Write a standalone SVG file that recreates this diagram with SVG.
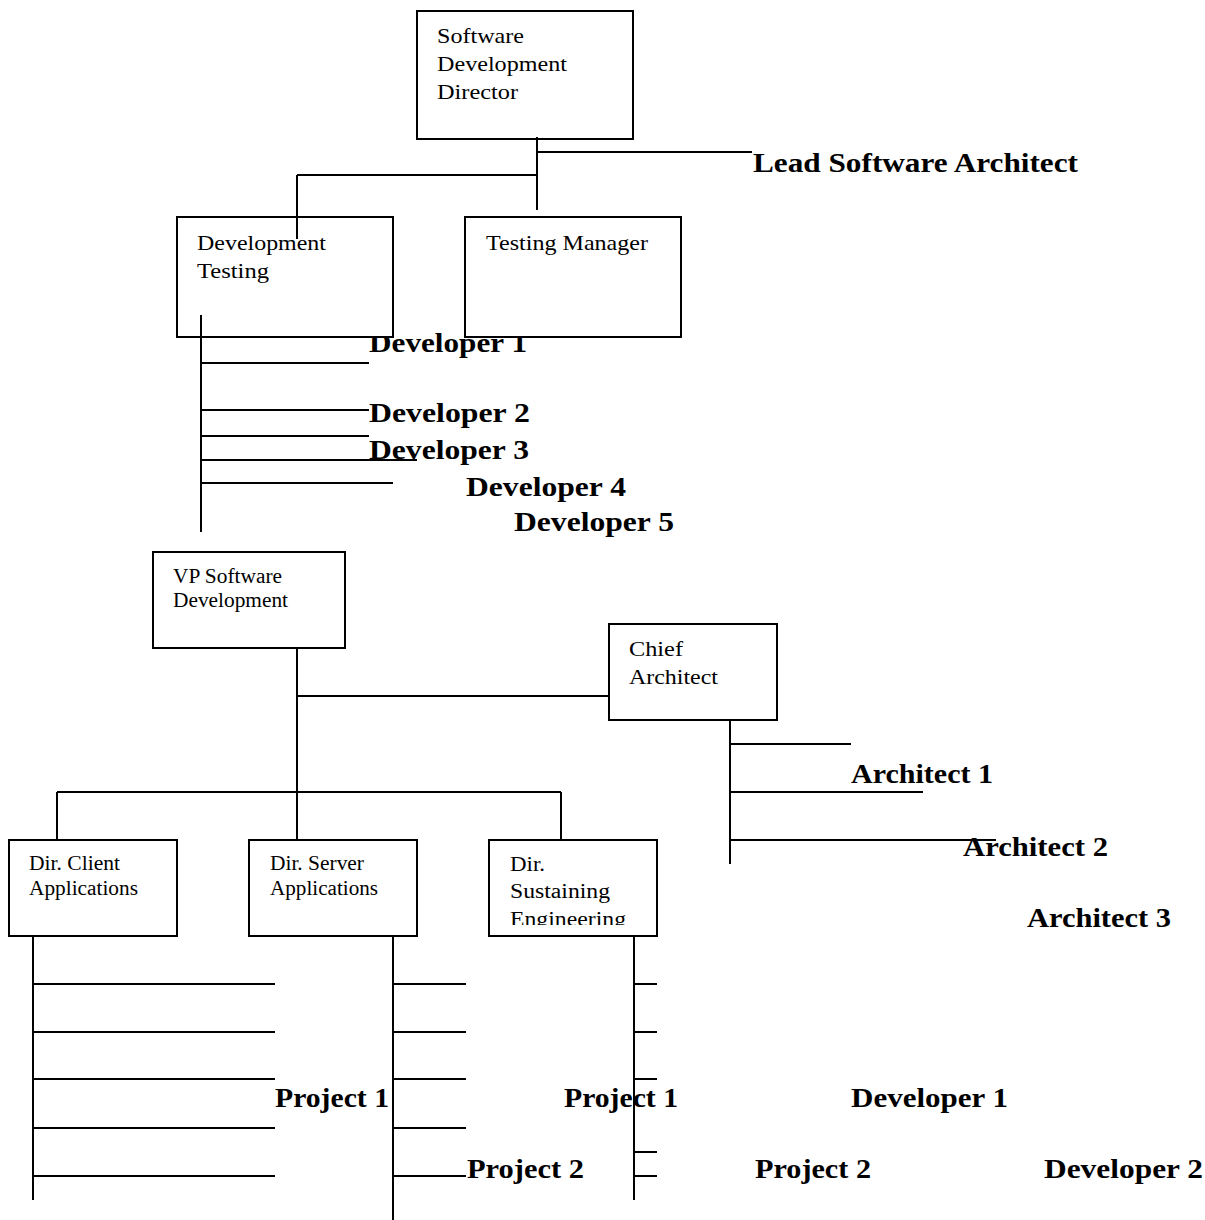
<svg xmlns="http://www.w3.org/2000/svg" width="1205" height="1220" viewBox="0 0 1205 1220">
<style>
.box{fill:#fff;stroke:#000;stroke-width:2}
.t{font-family:"Liberation Serif","Times New Roman",serif;fill:#000}
.big{font-size:22px}
.sm{font-size:20px}
.lbl{font-family:"Liberation Serif","Times New Roman",serif;font-size:27px;font-weight:bold;fill:#000}
.ln{stroke:#000;stroke-width:2;fill:none}
</style>
<defs>
<clipPath id="sustClip"><rect x="489" y="840" width="168" height="85"/></clipPath>
</defs>
<rect width="1205" height="1220" fill="#fff"/>
<g id="labels">
<text class="lbl" x="753" y="172" textLength="325" lengthAdjust="spacingAndGlyphs">Lead Software Architect</text>
<text class="lbl" x="369" y="352" textLength="158" lengthAdjust="spacingAndGlyphs">Developer 1</text>
<text class="lbl" x="369" y="422" textLength="161" lengthAdjust="spacingAndGlyphs">Developer 2</text>
<text class="lbl" x="369" y="459" textLength="160" lengthAdjust="spacingAndGlyphs">Developer 3</text>
<text class="lbl" x="466" y="496" textLength="160" lengthAdjust="spacingAndGlyphs">Developer 4</text>
<text class="lbl" x="514" y="531" textLength="160" lengthAdjust="spacingAndGlyphs">Developer 5</text>
<text class="lbl" x="851" y="783" textLength="142" lengthAdjust="spacingAndGlyphs">Architect 1</text>
<text class="lbl" x="963" y="856" textLength="145" lengthAdjust="spacingAndGlyphs">Architect 2</text>
<text class="lbl" x="1027" y="927" textLength="144" lengthAdjust="spacingAndGlyphs">Architect 3</text>
<text class="lbl" x="275" y="1107" textLength="114" lengthAdjust="spacingAndGlyphs">Project 1</text>
<text class="lbl" x="564" y="1107" textLength="114" lengthAdjust="spacingAndGlyphs">Project 1</text>
<text class="lbl" x="851" y="1107" textLength="157" lengthAdjust="spacingAndGlyphs">Developer 1</text>
<text class="lbl" x="467" y="1178" textLength="117" lengthAdjust="spacingAndGlyphs">Project 2</text>
<text class="lbl" x="755" y="1178" textLength="116" lengthAdjust="spacingAndGlyphs">Project 2</text>
<text class="lbl" x="1044" y="1178" textLength="159" lengthAdjust="spacingAndGlyphs">Developer 2</text>
</g>
<g id="node-sdd">
<rect class="box" x="417" y="11" width="216" height="128"/>
<text class="t big" x="437" y="43" textLength="87" lengthAdjust="spacingAndGlyphs">Software</text>
<text class="t big" x="437" y="71" textLength="130" lengthAdjust="spacingAndGlyphs">Development</text>
<text class="t big" x="437" y="99" textLength="81" lengthAdjust="spacingAndGlyphs">Director</text>
</g>
<g id="node-devtest">
<rect class="box" x="177" y="217" width="216" height="120"/>
<text class="t big" x="197" y="250" textLength="129" lengthAdjust="spacingAndGlyphs">Development</text>
<text class="t big" x="197" y="278" textLength="72" lengthAdjust="spacingAndGlyphs">Testing</text>
</g>
<g id="node-testmgr">
<rect class="box" x="465" y="217" width="216" height="120"/>
<text class="t big" x="486" y="250" textLength="162" lengthAdjust="spacingAndGlyphs">Testing Manager</text>
</g>
<g id="node-vp">
<rect class="box" x="153" y="552" width="192" height="96"/>
<text class="t sm" x="173" y="583" textLength="109" lengthAdjust="spacingAndGlyphs">VP Software</text>
<text class="t sm" x="173" y="607" textLength="115" lengthAdjust="spacingAndGlyphs">Development</text>
</g>
<g id="node-chief">
<rect class="box" x="609" y="624" width="168" height="96"/>
<text class="t" font-size="21" x="629" y="656" textLength="54" lengthAdjust="spacingAndGlyphs">Chief</text>
<text class="t" font-size="21" x="629" y="684" textLength="89" lengthAdjust="spacingAndGlyphs">Architect</text>
</g>
<g id="node-client">
<rect class="box" x="9" y="840" width="168" height="96"/>
<text class="t sm" x="29" y="870" textLength="91" lengthAdjust="spacingAndGlyphs">Dir. Client</text>
<text class="t sm" x="29" y="895" textLength="109" lengthAdjust="spacingAndGlyphs">Applications</text>
</g>
<g id="node-server">
<rect class="box" x="249" y="840" width="168" height="96"/>
<text class="t sm" x="270" y="870" textLength="94" lengthAdjust="spacingAndGlyphs">Dir. Server</text>
<text class="t sm" x="270" y="895" textLength="108" lengthAdjust="spacingAndGlyphs">Applications</text>
</g>
<g id="node-sust">
<rect class="box" x="489" y="840" width="168" height="96"/>
<g clip-path="url(#sustClip)">
<text class="t sm" x="510" y="871" textLength="35" lengthAdjust="spacingAndGlyphs">Dir.</text>
<text class="t sm" x="510" y="898" textLength="100" lengthAdjust="spacingAndGlyphs">Sustaining</text>
<text class="t sm" x="510" y="926" textLength="116" lengthAdjust="spacingAndGlyphs">Engineering</text>
</g>
</g>
<g id="connectors" class="ln">
<path d="M537 137V210M537 152H752M297 175H537M297 175V239"/>
<path d="M201 315V532M201 363H369M201 410H369M201 436H369M201 460H417M201 483H393"/>
<path d="M297 648V840M297 696H609M57 792H561M57 792V840M561 792V840"/>
<path d="M730 720V864M730 744H851M730 792H923M730 840H996"/>
<path d="M33 936V1200M33 984H275M33 1032H275M33 1079H275M33 1128H275M33 1176H275"/>
<path d="M393 936V1220M393 984H466M393 1032H466M393 1079H466M393 1128H466M393 1176H466"/>
<path d="M634 936V1200M634 984H657M634 1032H657M634 1079H657M634 1152H657M634 1176H657"/>
</g>
</svg>
